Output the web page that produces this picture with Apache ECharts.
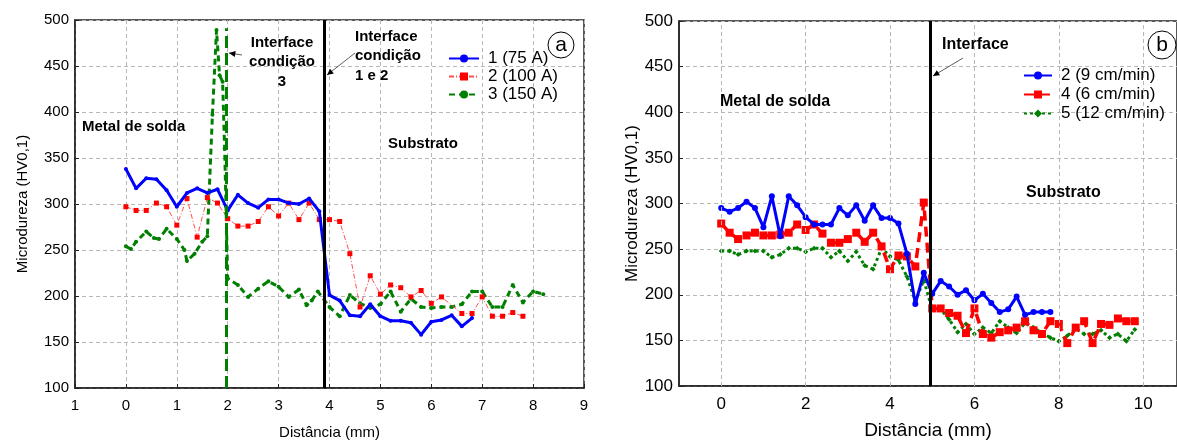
<!DOCTYPE html>
<html>
<head>
<meta charset="utf-8">
<script src="https://cdn.jsdelivr.net/npm/echarts@6/dist/echarts.min.js"></script>
<style>html,body{margin:0;background:#fff}#c{width:1177px;height:445px}</style>
</head>
<body>
<div id="c"></div>
<script>
// (a) corrente
const distA1 = [0,0.2,0.4,0.6,0.8,1.0,1.2,1.4,1.6,1.8,2.0,2.2,2.4,2.6,2.8,3.0,3.2,3.4,3.6,3.8,4.0,4.2,4.4,4.6,4.8,5.0,5.2,5.4,5.6,5.8,6.0,6.2,6.4,6.6,6.8];
const hvA1 = [338,317,328,327,315,297,312,317,312,316,293,310,301,296,305,305,301,300,306,292,201,195,179,178,191,178,173,173,171,158,172,174,179,167,176];
const distA2 = [0,0.2,0.4,0.6,0.8,1.0,1.2,1.4,1.6,1.8,2.0,2.2,2.4,2.6,2.8,3.0,3.2,3.4,3.6,3.8,4.0,4.2,4.4,4.6,4.8,5.0,5.2,5.4,5.6,5.8,6.0,6.2,6.6,6.8,7.0,7.2,7.4,7.6,7.8];
const hvA2 = [297,293,293,301,297,277,306,264,307,301,284,276,276,281,297,287,301,283,301,283,283,281,246,188,222,202,212,209,199,206,192,199,181,181,199,178,178,182,178];
const distA3 = [0,0.1,0.2,0.4,0.55,0.65,0.8,1.0,1.15,1.2,1.35,1.5,1.6,1.7,1.78,1.84,1.9,1.94,1.97,2.0,2.2,2.4,2.6,2.8,3.0,3.2,3.4,3.55,3.65,3.77,4.0,4.2,4.4,4.6,4.8,5.0,5.2,5.4,5.6,5.8,6.0,6.2,6.4,6.6,6.8,7.0,7.2,7.4,7.6,7.8,8.0,8.2];
const hvA3 = [254,251,259,270,263,262,273,262,250,238,246,259,265,397,489,440,433,360,290,219,212,199,208,216,210,199,207,190,195,205,188,178,201,192,187,191,205,183,197,188,187,188,188,191,205,205,188,188,212,193,205,202];
const interfaceA12 = 3.9;
const interfaceA3 = 1.98;
const interfaceA3Top = 491;

// (b) velocidade
const distB2 = [0,0.2,0.4,0.6,0.8,1.0,1.2,1.4,1.6,1.8,2.0,2.2,2.4,2.6,2.8,3.0,3.2,3.4,3.6,3.8,4.0,4.2,4.4,4.6,4.8,5.0,5.2,5.4,5.6,5.8,6.0,6.2,6.4,6.6,6.8,7.0,7.2,7.4,7.6,7.8];
const hvB2 = [295,291,295,302,295,274,308,264,308,298,285,277,277,277,295,287,298,281,298,284,284,278,245,190,224,201,215,209,200,205,194,201,191,181,184,198,178,181,181,181];
const distB45 = [0,0.2,0.4,0.6,0.8,1.0,1.2,1.4,1.6,1.8,2.0,2.2,2.4,2.6,2.8,3.0,3.2,3.4,3.6,3.8,4.0,4.2,4.4,4.6,4.8,5.0,5.2,5.4,5.6,5.8,6.0,6.2,6.4,6.6,6.8,7.0,7.2,7.4,7.6,7.8,8.0,8.2,8.4,8.6,8.8,9.0,9.2,9.4,9.6,9.8];
const hvB4 = [278,268,261,265,268,265,265,266,268,277,271,277,267,257,257,261,268,258,268,253,228,243,242,231,301,185,185,180,177,158,185,157,153,159,161,164,171,161,157,171,168,147,164,171,147,168,167,174,171,171];
const hvB5 = [248,248,244,248,248,248,241,244,251,251,247,251,251,241,248,237,247,232,228,251,242,238,220,193,216,184,184,173,159,168,157,164,158,171,164,158,169,164,158,153,149,155,163,157,157,161,153,157,149,162];
const interfaceB = 4.96;
const gridXB = [0,2,4,6,8,10];

const FONT = 'Liberation Sans, Arial, sans-serif';
const GRIDC = '#b8b8b8';
const zip = (xs, ys) => xs.map((x, i) => [x, ys[i]]);

const chart = echarts.init(document.getElementById('c'));

function xAxisCfg(idx, min, max, interval, size, extra) {
  return Object.assign({
    type: 'value', gridIndex: idx, min, max, interval,
    name: 'Distância (mm)', nameLocation: 'middle', nameGap: idx ? 35 : 37,
    nameTextStyle: { fontFamily: FONT, fontSize: idx ? 19 : 15, color: '#000' },
    axisLine: { onZero: false, lineStyle: { color: '#222', width: 1.5 } },
    axisTick: { inside: true, length: 4, lineStyle: { color: '#222' } },
    axisLabel: { fontFamily: FONT, fontSize: size, color: '#000', margin: 10 },
    splitLine: { show: true, lineStyle: { color: GRIDC, type: [4, 3] } }
  }, extra || {});
}
function yAxisCfg(idx, size, gap) {
  return {
    type: 'value', gridIndex: idx, min: 100, max: 500, interval: 50,
    name: 'Microdureza (HV0,1)', nameLocation: 'middle', nameGap: gap,
    nameTextStyle: { fontFamily: FONT, fontSize: idx ? 17 : 15, color: '#000' },
    axisLine: { show: true, onZero: false, lineStyle: { color: '#222', width: 1.5 } },
    axisTick: { inside: true, length: 4, lineStyle: { color: '#222' } },
    axisLabel: { fontFamily: FONT, fontSize: size, color: '#000', margin: 6 },
    splitLine: { show: true, lineStyle: { color: GRIDC, type: [4, 3] } }
  };
}

function arrow(x1, y1, x2, y2) {
  const a = Math.atan2(y2 - y1, x2 - x1), L = 7, w = 0.45;
  return [
    { type: 'line', shape: { x1, y1, x2, y2 }, style: { stroke: '#333', lineWidth: 0.8 }, z: 20 },
    { type: 'polygon', shape: { points: [[x2, y2],
      [x2 - L * Math.cos(a - w), y2 - L * Math.sin(a - w)],
      [x2 - L * Math.cos(a + w), y2 - L * Math.sin(a + w)]] }, style: { fill: '#000' }, z: 20 }
  ];
}
function label(text, x, y, size, align, lh) {
  return { type: 'text', x, y, z: 20, style: { text, fontFamily: FONT, fontWeight: 'bold', fontSize: size,
    fill: '#000', align: align || 'left', verticalAlign: 'middle', lineHeight: lh || size } };
}
function badge(ch, cx, cy, r) {
  return [
    { type: 'circle', shape: { cx, cy, r }, style: { fill: '#fff', stroke: '#000', lineWidth: 1 }, z: 20 },
    { type: 'text', x: cx, y: cy, z: 21, style: { text: ch, fontFamily: FONT, fontSize: 21, fill: '#000', align: 'center', verticalAlign: 'middle' } }
  ];
}

chart.setOption({
  animation: false,
  backgroundColor: '#fff',
  grid: [
    { left: 75, top: 20, width: 509, height: 368, show: true, borderColor: '#222', borderWidth: 1.5, backgroundColor: 'transparent' },
    { left: 679, top: 21, width: 500, height: 370, show: true, borderColor: '#222', borderWidth: 1.5, backgroundColor: 'transparent' }
  ],
  xAxis: [
    xAxisCfg(0, -1, 9, 1, 15, { axisLabel: { fontFamily: FONT, fontSize: 15, color: '#000', margin: 10, formatter: v => String(Math.abs(v)) } }),
    xAxisCfg(1, -1, 10.8, 1, 17, {
      splitLine: { show: false },
      axisTick: { inside: true, length: 4, customValues: gridXB, lineStyle: { color: '#222' } },
      axisLabel: { fontFamily: FONT, fontSize: 17, color: '#000', margin: 10, customValues: gridXB }
    })
  ],
  yAxis: [yAxisCfg(0, 15, 45), yAxisCfg(1, 17, 38)],
  legend: [
    { data: ['1 (75 A)', '2 (100 A)', '3 (150 A)'], orient: 'vertical', left: 443, top: 45,
      itemWidth: 30, itemHeight: 10, itemGap: 1,
      textStyle: { fontFamily: FONT, fontSize: 17, color: '#000', padding: [0, 0, 0, 4] } },
    { data: ['2 (9 cm/min)', '4 (6 cm/min)', '5 (12 cm/min)'], orient: 'vertical', left: 1018, top: 62,
      itemWidth: 28, itemHeight: 10, itemGap: 2,
      textStyle: { fontFamily: FONT, fontSize: 17, color: '#000', padding: [0, 0, 0, 4] } }
  ],
  series: [
    { type: 'line', xAxisIndex: 1, yAxisIndex: 1, data: [], z: 1, silent: true,
      markLine: { silent: true, symbol: 'none', label: { show: false },
        lineStyle: { color: GRIDC, type: [4, 3], width: 1 },
        data: gridXB.map(v => ({ xAxis: v })) } },
    { name: '1 (75 A)', type: 'line', xAxisIndex: 0, yAxisIndex: 0, data: zip(distA1, hvA1), z: 4,
      symbol: 'circle', symbolSize: 4, itemStyle: { color: '#0000ff' }, lineStyle: { color: '#0000ff', width: 3 } },
    { name: '2 (100 A)', type: 'line', xAxisIndex: 0, yAxisIndex: 0, data: zip(distA2, hvA2), z: 3,
      symbol: 'rect', symbolSize: 5, itemStyle: { color: '#ff0000' }, lineStyle: { color: '#ff5050', width: 1, type: [5, 2, 1, 2] } },
    { name: '3 (150 A)', type: 'line', xAxisIndex: 0, yAxisIndex: 0, data: zip(distA3, hvA3), z: 2,
      symbol: 'circle', symbolSize: 4, itemStyle: { color: '#007f00' }, lineStyle: { color: '#007f00', width: 3, type: [6, 4] },
      markLine: { silent: true, symbol: 'none', label: { show: false },
        data: [
          [{ coord: [interfaceA3, 100], lineStyle: { color: '#007f00', width: 3, type: [12, 5] } }, { coord: [interfaceA3, interfaceA3Top] }],
          { xAxis: interfaceA12, lineStyle: { color: '#000', width: 3, type: 'solid' } }
        ] } },
    { name: '2 (9 cm/min)', type: 'line', xAxisIndex: 1, yAxisIndex: 1, data: zip(distB2, hvB2), z: 4,
      symbol: 'circle', symbolSize: 6, itemStyle: { color: '#0000ff' }, lineStyle: { color: '#0000ff', width: 3 },
      markLine: { silent: true, symbol: 'none', label: { show: false },
        data: [{ xAxis: interfaceB, lineStyle: { color: '#000', width: 3, type: 'solid' } }] } },
    { name: '4 (6 cm/min)', type: 'line', xAxisIndex: 1, yAxisIndex: 1, data: zip(distB45, hvB4), z: 3,
      symbol: 'rect', symbolSize: 8, itemStyle: { color: '#ff0000' }, lineStyle: { color: '#ff0000', width: 3.5, type: [10, 6] } },
    { name: '5 (12 cm/min)', type: 'line', xAxisIndex: 1, yAxisIndex: 1, data: zip(distB45, hvB5), z: 2,
      symbol: 'diamond', symbolSize: 5, itemStyle: { color: '#007f00' }, lineStyle: { color: '#007f00', width: 3, type: [3, 3] } }
  ],
  graphic: [
    label('Metal de solda', 82, 127, 15),
    label('Interface\ncondição\n3', 282, 62, 15, 'center', 19.5),
    label('Interface\ncondição\n1 e 2', 355, 56, 15, 'left', 19.5),
    label('Substrato', 388, 144, 15),
    ...arrow(242, 55, 229, 53),
    ...arrow(355, 53, 327, 75),
    ...badge('a', 561, 45, 13),
    label('Metal de solda', 720, 102, 16),
    label('Interface', 942, 45, 16),
    label('Substrato', 1026, 193, 16),
    ...arrow(963, 58, 933, 76),
    ...badge('b', 1162, 45, 14)
  ]
});
</script>
</body>
</html>
